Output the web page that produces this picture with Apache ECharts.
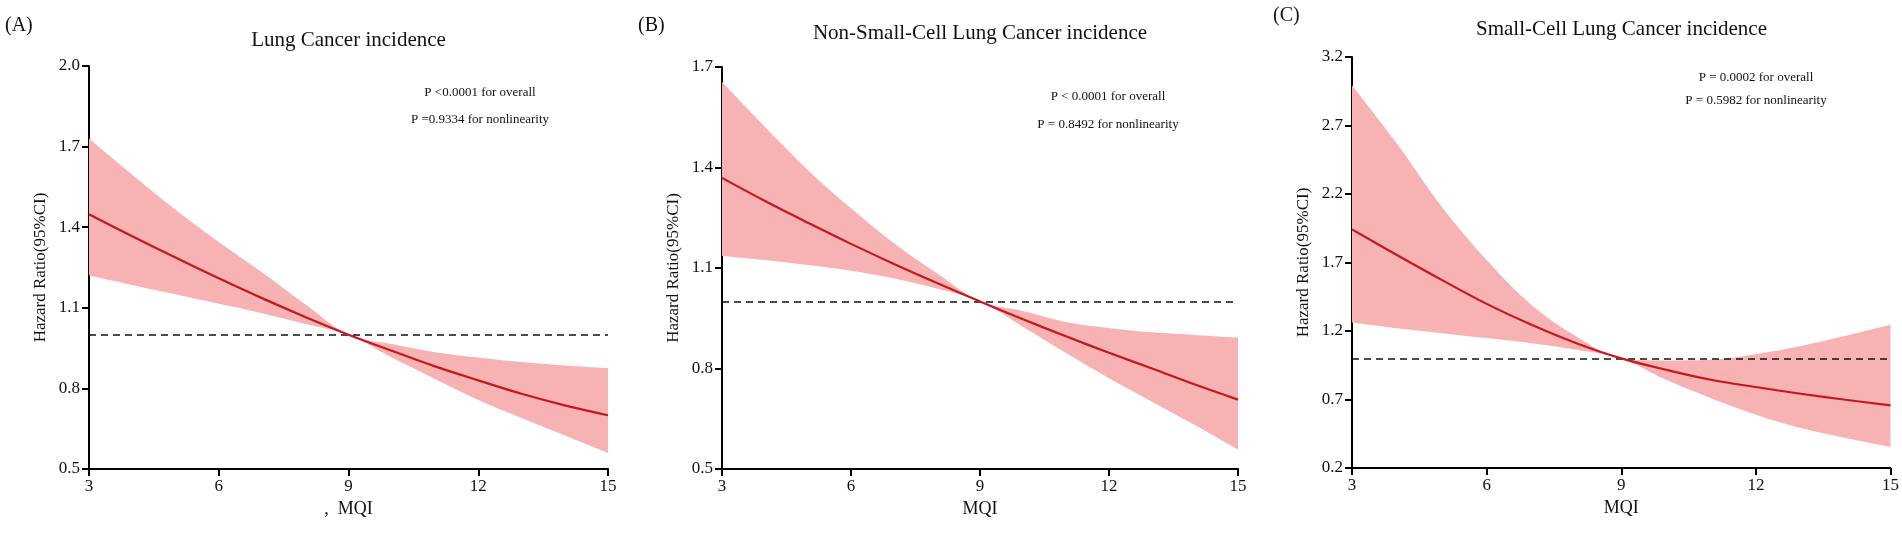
<!DOCTYPE html>
<html>
<head>
<meta charset="utf-8">
<script src="https://cdn.jsdelivr.net/npm/echarts@6/dist/echarts.min.js"></script>
<style>
html,body{margin:0;padding:0;background:#fff;}
#chart{width:1902px;height:548px;}
</style>
</head>
<body>
<div id="chart"></div>
<script>
// ---- data ----
const mqi = [3, 4, 5, 6, 7, 8, 9, 10, 11, 12, 13, 14, 15];
const xTickEvery = 3; // labelled MQI ticks: 3, 6, 9, 12, 15

// (A) Lung Cancer incidence
const hrA = [1.448, 1.366, 1.287, 1.21, 1.136, 1.066, 1.0, 0.94, 0.882, 0.83, 0.78, 0.737, 0.70];
const upA = [1.73, 1.595, 1.465, 1.345, 1.232, 1.113, 1.0, 0.965, 0.935, 0.915, 0.898, 0.885, 0.875];
const loA = [1.22, 1.185, 1.15, 1.115, 1.08, 1.04, 1.0, 0.915, 0.835, 0.757, 0.69, 0.625, 0.56];
const yTicksA = [0.5, 0.8, 1.1, 1.4, 1.7, 2.0];

// (B) Non-Small-Cell Lung Cancer incidence
const hrB = [1.369, 1.300, 1.235, 1.172, 1.112, 1.055, 1.0, 0.947, 0.896, 0.847, 0.80, 0.752, 0.707];
const upB = [1.655, 1.521, 1.392, 1.278, 1.174, 1.084, 1.0, 0.972, 0.939, 0.921, 0.908, 0.900, 0.892];
const loB = [1.136, 1.124, 1.109, 1.092, 1.069, 1.039, 1.0, 0.925, 0.846, 0.771, 0.701, 0.631, 0.558];
const yTicksB = [0.5, 0.8, 1.1, 1.4, 1.7];

// (C) Small-Cell Lung Cancer incidence
const hrC = [1.942, 1.755, 1.573, 1.398, 1.245, 1.111, 1.0, 0.917, 0.844, 0.791, 0.742, 0.698, 0.657];
const upC = [2.994, 2.568, 2.107, 1.718, 1.390, 1.160, 1.0, 0.985, 0.99, 1.03, 1.09, 1.165, 1.245];
const loC = [1.262, 1.220, 1.184, 1.148, 1.111, 1.063, 1.0, 0.844, 0.710, 0.589, 0.492, 0.419, 0.353];
const yTicksC = [0.2, 0.7, 1.2, 1.7, 2.2, 2.7, 3.2];

const refHR = 1.0;

const panels = [
  { tag: '(A)', title: 'Lung Cancer incidence', xName: ',  MQI',
    p1: 'P <0.0001 for overall', p2: 'P =0.9334 for nonlinearity',
    hr: hrA, up: upA, lo: loA, yt: yTicksA },
  { tag: '(B)', title: 'Non-Small-Cell Lung Cancer incidence', xName: 'MQI',
    p1: 'P < 0.0001 for overall', p2: 'P = 0.8492 for nonlinearity',
    hr: hrB, up: upB, lo: loB, yt: yTicksB },
  { tag: '(C)', title: 'Small-Cell Lung Cancer incidence', xName: 'MQI',
    p1: 'P = 0.0002 for overall', p2: 'P = 0.5982 for nonlinearity',
    hr: hrC, up: upC, lo: loC, yt: yTicksC }
];

// ---- layout / style ----
const FONT = "'Liberation Serif','Times New Roman',serif";
const layout = [
  { left: 89, top: 66, width: 519, height: 403, tagX: 5, tagY: 27, titleY: 40, pX: 480, p1Y: 93, p2Y: 120 },
  { left: 722, top: 67, width: 516, height: 402, tagX: 638, tagY: 27, titleY: 33, pX: 1108, p1Y: 97, p2Y: 125 },
  { left: 1352, top: 57, width: 539, height: 411, tagX: 1273, tagY: 17, titleY: 29, pX: 1756, p1Y: 78, p2Y: 101 }
];

const grids = [], xAxes = [], yAxes = [], series = [], graphics = [];
panels.forEach((p, i) => {
  const L = layout[i];
  grids.push({ left: L.left, top: L.top, width: L.width, height: L.height, containLabel: false });
  const axisLine = { show: true, onZero: false, lineStyle: { color: '#000', width: 2 } };
  xAxes.push({
    type: 'category', gridIndex: i, boundaryGap: false, data: mqi.map(String),
    name: p.xName, nameLocation: 'middle', nameGap: 31,
    nameTextStyle: { fontFamily: FONT, fontSize: 18, color: '#111' },
    axisLine: axisLine,
    axisTick: { show: true, length: 7, interval: xTickEvery - 1, lineStyle: { color: '#000', width: 2 } },
    axisLabel: { fontFamily: FONT, fontSize: 17, color: '#111', margin: 9, interval: xTickEvery - 1 },
    splitLine: { show: false }
  });
  yAxes.push({
    type: 'value', gridIndex: i, min: p.yt[0], max: p.yt[p.yt.length - 1],
    interval: +(p.yt[1] - p.yt[0]).toFixed(2),
    name: 'Hazard Ratio(95%CI)', nameLocation: 'middle', nameGap: 40,
    nameTextStyle: { fontFamily: FONT, fontSize: 17, color: '#111' },
    axisLine: axisLine, axisTick: { show: true, length: 7, lineStyle: { color: '#000', width: 2 } },
    axisLabel: { fontFamily: FONT, fontSize: 17, color: '#111', margin: 9, formatter: v => v.toFixed(1) },
    splitLine: { show: false }
  });
  const stack = 'band' + i;
  series.push({
    type: 'line', xAxisIndex: i, yAxisIndex: i, stack: stack, smooth: 0.35, symbol: 'none',
    lineStyle: { opacity: 0 }, silent: true,
    data: p.lo.slice()
  });
  series.push({
    type: 'line', xAxisIndex: i, yAxisIndex: i, stack: stack, smooth: 0.35, symbol: 'none',
    lineStyle: { opacity: 0 }, areaStyle: { color: '#F7B2B3', opacity: 1 }, silent: true,
    data: p.up.map((u, k) => +(u - p.lo[k]).toFixed(4))
  });
  series.push({
    type: 'line', xAxisIndex: i, yAxisIndex: i, smooth: 0.35, symbol: 'none', z: 5,
    lineStyle: { color: '#C8161D', width: 2.2 },
    data: p.hr.slice(),
    markLine: {
      silent: true, symbol: 'none', label: { show: false },
      lineStyle: { color: '#111', type: [7, 5], width: 1.6 },
      data: [{ yAxis: refHR }]
    }
  });
  graphics.push({ type: 'text', left: L.tagX, top: L.tagY - 11,
    style: { text: p.tag, font: '20px ' + FONT, fill: '#111' } });
  graphics.push({ type: 'text', x: L.left + L.width / 2, y: L.titleY,
    style: { text: p.title, font: '21px ' + FONT, fill: '#111', textAlign: 'center', textVerticalAlign: 'middle' } });
  graphics.push({ type: 'text', x: L.pX, y: L.p1Y,
    style: { text: p.p1, font: '13px ' + FONT, fill: '#111', textAlign: 'center', textVerticalAlign: 'middle' } });
  graphics.push({ type: 'text', x: L.pX, y: L.p2Y,
    style: { text: p.p2, font: '13px ' + FONT, fill: '#111', textAlign: 'center', textVerticalAlign: 'middle' } });
});

const chart = echarts.init(document.getElementById('chart'), null, { renderer: 'canvas' });
chart.setOption({
  animation: false,
  backgroundColor: '#fff',
  grid: grids, xAxis: xAxes, yAxis: yAxes, series: series, graphic: graphics
});
</script>
</body>
</html>
